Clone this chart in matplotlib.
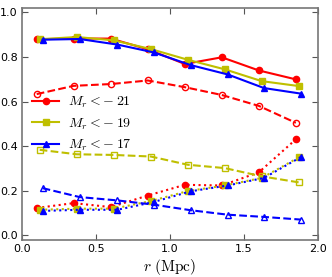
import numpy as np
import matplotlib
matplotlib.use("Agg")
import matplotlib.pyplot as plt

plt.rcParams['mathtext.fontset'] = 'cm'

# separation bins (Mpc), slightly offset per sample
r_21 = [0.10, 0.35, 0.60, 0.85, 1.10, 1.35, 1.60, 1.85]
r_19 = [0.12, 0.37, 0.62, 0.87, 1.12, 1.37, 1.62, 1.87]
r_17 = [0.14, 0.39, 0.645, 0.89, 1.14, 1.39, 1.635, 1.885]

# solid lines
solid_21 = [0.880, 0.883, 0.883, 0.835, 0.769, 0.799, 0.740, 0.700]
solid_19 = [0.880, 0.890, 0.875, 0.836, 0.788, 0.745, 0.692, 0.670]
solid_17 = [0.878, 0.881, 0.856, 0.821, 0.764, 0.722, 0.661, 0.636]

# dashed lines (open markers)
dash_21 = [0.634, 0.671, 0.679, 0.695, 0.665, 0.630, 0.581, 0.505]
dash_19 = [0.384, 0.364, 0.361, 0.354, 0.317, 0.302, 0.265, 0.238]
dash_17 = [0.212, 0.172, 0.157, 0.138, 0.113, 0.093, 0.083, 0.071]

# dotted lines (filled markers)
dot_21 = [0.123, 0.145, 0.127, 0.179, 0.227, 0.224, 0.283, 0.431]
dot_19 = [0.115, 0.120, 0.120, 0.154, 0.199, 0.224, 0.258, 0.350]
dot_17 = [0.110, 0.115, 0.115, 0.150, 0.198, 0.224, 0.258, 0.352]

labels = [r'$M_r<\!-21$', r'$M_r<\!-19$', r'$M_r<\!-17$']
colors = ['r', 'y', 'b']
markers = ['o', 's', '^']

fig = plt.figure(figsize=(3.32, 2.77), dpi=100)
ax = fig.add_axes([0.066, 0.134, 0.892, 0.837])

sets = [(r_21, solid_21, dash_21, dot_21),
        (r_19, solid_19, dash_19, dot_19),
        (r_17, solid_17, dash_17, dot_17)]

for (r, s, d, t), c, m, lab in zip(sets, colors, markers, labels):
    ax.plot(r, s, '-', color=c, marker=m, ms=4.5, mec=c, lw=1.5, label=lab)
    ax.plot(r, d, '--', color=c, marker=m, ms=4.5, mfc='none', mec=c, lw=1.5)
    ax.plot(r, t, ':', color=c, marker=m, ms=4.5, mec=c, lw=1.5)

ax.set_xlim(0, 2.0)
ax.set_ylim(-0.02, 1.02)
ax.set_xticks(np.arange(0, 2.01, 0.5))
ax.set_yticks(np.arange(0, 1.01, 0.2))
ax.tick_params(direction='in', top=True, right=True, labelsize=8,
               color='#555555', length=4, pad=3)
for sp in ax.spines.values():
    sp.set_color('#777777')
    sp.set_linewidth(1.2)

ax.set_xlabel(r'$r\ \mathrm{(Mpc)}$', fontsize=11, labelpad=2)
ax.legend(loc='center left', bbox_to_anchor=(0.0, 0.5), frameon=False,
          fontsize=10, handlelength=2.0, handletextpad=0.6,
          labelspacing=0.45, borderaxespad=0.3)

fig.savefig('out.png', dpi=100)
